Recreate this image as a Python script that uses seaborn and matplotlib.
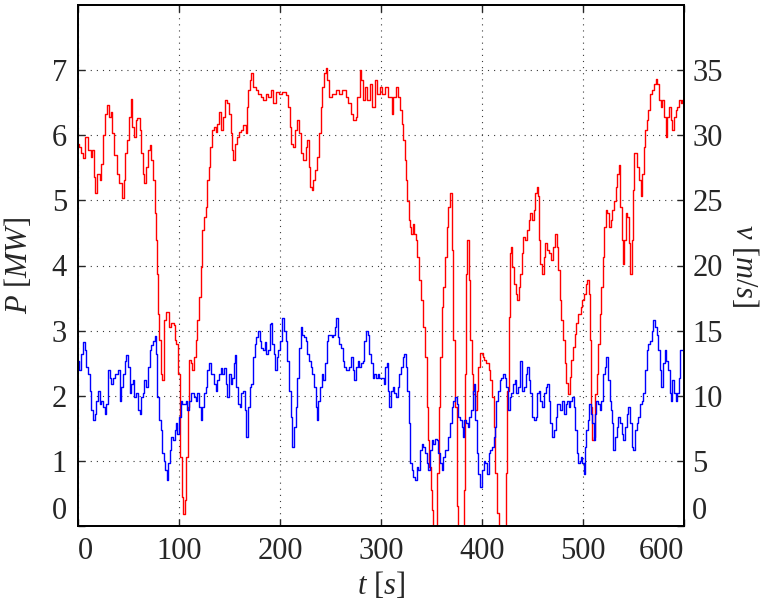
import numpy as np
import pandas as pd
import seaborn as sns
import matplotlib
matplotlib.use('Agg')
import matplotlib.pyplot as plt

# Power P [MW] (red, left axis)
p_time = [0, 0.8, 2.5, 4.8, 7.4, 10, 12.4, 14, 15.6, 17.3, 19, 21.3, 23.2, 24.9, 27.2, 28.9, 30.5, 32.2, 33.8, 36.1,
          38.8, 41, 43.7, 45.4, 47, 48.7, 50.3, 52, 53.6, 55.3, 57, 58.6, 60.9, 62.5, 64.2, 65.8, 67.5, 69.1, 70.8, 72.7,
          74.4, 76, 77, 78, 79, 80, 81.7, 83.3, 85, 87.3, 89.9, 92.5, 94.9, 96.5, 97.5, 99.2, 100.6, 102.5, 103.9, 105.8,
          107.2, 108.5, 109.8, 111.5, 113.1, 114.8, 116.4, 118.1, 119.7, 121.4, 122.4, 124.7, 126.3, 128, 129.6, 131, 132.2, 134.6, 136.2, 137.9,
          139.5, 141.2, 143.5, 145.4, 147.1, 149.4, 151, 152.7, 153.7, 155.3, 157, 159.3, 161.3, 163.6, 165.9, 167.2, 168.5, 169.9, 171.2, 173.2,
          175.8, 178.4, 180.7, 183.1, 185.7, 188.3, 190.7, 193, 195.6, 199, 202.3, 205.6, 208.2, 209.6, 211.2, 212.9, 214.8, 217.2, 218.8, 220.8,
          222.8, 225.4, 227, 228.7, 230, 231.3, 233, 234.6, 236.6, 238.6, 240.3, 241.9, 243.6, 245.2, 246.9, 248.5, 251.8, 255.1, 258.4, 261.7,
          265, 267.6, 270, 272.3, 274.9, 276.6, 278.9, 280.2, 282.2, 284.1, 286.5, 288.8, 291.4, 294.1, 296.4, 298.7, 300.8, 304, 307.4, 310.7,
          312.3, 315, 317.3, 318.9, 320.6, 322.2, 323.9, 324.8, 326.2, 327.8, 328.8, 330.1, 331.4, 332.8, 334.7, 336, 337.7, 339.7, 342, 343.6,
          345.3, 346.6, 347.9, 349.3, 350.3, 351.9, 354.5, 355.9, 357.5, 358.5, 360.2, 361.8, 363.5, 365.1, 366.8, 368.4, 370.1, 371.7, 373.4, 375,
          376.7, 381, 382.3, 383.3, 384.2, 385.6, 386.9, 388.2, 389.9, 391.5, 393.2, 394.8, 396.5, 398.1, 400.7, 401.8, 404.2, 406.5, 408.4, 409.8,
          411.4, 413.1, 414.7, 416.4, 422.3, 424, 424.9, 426.3, 427.6, 428.9, 429.9, 431.5, 433.2, 434.8, 436.5, 438.1, 439.5, 440.8, 442.8, 444.7,
          446.4, 448, 449.7, 451.3, 452.7, 454, 455.3, 456.6, 457.9, 459.3, 460.9, 462.6, 464.5, 466.5, 468.5, 470.2, 472.5, 473.8, 475.1, 476.8,
          478.4, 480.1, 481.7, 483.4, 485, 486.7, 488.3, 490, 491.6, 493.3, 494.9, 497.7, 499.3, 501, 502.6, 504.3, 505.9, 507.2, 508.2, 509.2,
          510.5, 511.8, 513.5, 514.8, 516.5, 518.1, 519.4, 521.1, 522.4, 524.1, 525.7, 527.4, 529, 530.7, 532.3, 534, 535.6, 536.9, 538.2, 539.2,
          540.6, 542.2, 543.9, 545.5, 546.8, 548.1, 549.5, 550.8, 552.1, 553.8, 555.4, 557.1, 558.7, 560, 561.3, 563, 564.6, 566.3, 567.9, 569.9,
          571.9, 573.6, 575.2, 576.9, 578.5, 580.2, 581.8, 583.5, 585.1, 586.8, 588.4, 590.1, 591.7, 593.4, 595, 596.7, 598.3, 600]
p_mw = [5.87, 5.82, 5.72, 5.65, 5.98, 5.77, 5.67, 5.77, 5.36, 5.12, 5.41, 5.31, 5.56, 6.0, 6.33, 6.46, 6.28, 6.36, 6.03, 5.69,
        5.41, 5.26, 5.03, 5.31, 5.72, 5.93, 6.28, 6.56, 6.13, 5.98, 6.23, 6.26, 6.08, 5.72, 5.41, 5.26, 5.52, 5.77, 5.85, 5.62,
        5.31, 4.80, 4.39, 3.87, 3.26, 2.85, 2.34, 2.24, 3.16, 3.29, 3.06, 3.11, 3.08, 2.85, 2.80, 2.34, 1.06, 0.45, 0.19, 0.40,
        1.06, 1.83, 2.55, 2.50, 2.39, 2.60, 2.85, 3.16, 3.52, 3.98, 4.54, 4.75, 4.90, 5.31, 5.52, 5.82, 6.08, 6.13, 6.05, 6.18,
        6.36, 6.08, 6.28, 6.54, 6.49, 6.33, 6.03, 5.77, 5.62, 5.87, 5.98, 6.05, 6.08, 6.16, 6.03, 6.44, 6.69, 6.85, 6.95, 6.74,
        6.69, 6.64, 6.59, 6.54, 6.64, 6.59, 6.69, 6.49, 6.67, 6.64, 6.67, 6.62, 6.44, 6.13, 5.87, 5.82, 6.08, 6.23, 6.03, 5.72,
        5.62, 5.82, 5.93, 5.52, 5.21, 5.16, 5.31, 5.46, 5.67, 6.03, 6.44, 6.74, 6.95, 7.03, 6.85, 6.59, 6.64, 6.69, 6.64, 6.69,
        6.59, 6.49, 6.33, 6.23, 6.28, 6.59, 7.00, 6.85, 6.54, 6.74, 6.54, 6.79, 6.44, 6.85, 6.64, 6.74, 6.64, 6.74, 6.59, 6.33,
        6.59, 6.74, 6.59, 6.39, 6.18, 5.93, 5.62, 5.31, 4.99, 4.70, 4.59, 4.49, 4.64, 4.49, 4.39, 4.13, 3.77, 3.47, 3.06, 2.60,
        1.83, 1.32, 0.90, 0.55, 0.25, 0.0, 0.0, 0.81, 1.83, 2.60, 3.37, 3.67, 4.13, 4.59, 4.90, 5.11, 4.24, 2.85, 1.83, 0.30,
        0.0, 0.0, 0.55, 2.34, 3.87, 4.39, 3.77, 2.85, 2.34, 2.03, 1.78, 2.08, 2.44, 2.65, 2.60, 2.55, 2.50, 2.39, 2.24, 1.98,
        1.52, 0.81, 0.20, 0.0, 0.0, 0.81, 2.08, 3.21, 4.19, 4.29, 3.98, 3.72, 3.57, 3.47, 3.67, 3.87, 4.19, 4.44, 4.39, 4.54,
        4.70, 4.80, 4.70, 4.85, 5.11, 5.21, 5.06, 4.39, 4.03, 3.87, 4.13, 4.34, 4.24, 4.19, 4.08, 4.29, 4.49, 4.29, 3.93, 3.47,
        3.16, 2.85, 2.50, 2.19, 2.03, 2.29, 2.55, 2.75, 2.95, 3.11, 3.26, 3.37, 3.47, 3.57, 3.72, 3.77, 3.57, 2.85, 1.83, 1.32,
        1.37, 2.03, 2.34, 2.80, 3.26, 3.67, 4.13, 4.59, 4.85, 4.80, 4.59, 4.70, 4.85, 4.99, 5.21, 5.41, 5.54, 4.90, 4.39, 4.03,
        4.39, 4.80, 4.75, 4.34, 3.87, 4.39, 5.16, 5.72, 5.72, 5.52, 5.31, 5.06, 5.41, 5.82, 6.08, 6.23, 6.39, 6.64, 6.69, 6.79,
        6.87, 6.79, 6.54, 6.44, 6.54, 6.28, 5.98, 6.28, 6.44, 6.23, 6.08, 6.28, 6.39, 6.44, 6.54, 6.49, 6.54, 6.44]

# Wind speed v [m/s] (blue, right axis)
v_time = [0, 0.8, 2.5, 4.8, 6.7, 8.4, 10, 11.4, 13.3, 15, 16.6, 18.3, 19.9, 21.6, 23.2, 24.9, 26.5, 28.2, 29.8, 31.5,
          33.1, 34.8, 36.4, 38.1, 39.7, 41.4, 43, 44.7, 46.3, 47.7, 49.3, 51, 52.6, 54.3, 55.9, 57.6, 59.2, 60.9, 62.5, 64.2,
          65.8, 67.5, 69.1, 70.8, 72.7, 74.4, 76, 77.4, 78.7, 80, 81.7, 83.3, 85, 86.6, 87.9, 89.2, 90.9, 92.5, 94.2, 95.8,
          96.6, 98.2, 99.9, 101.6, 103.2, 104.9, 106.5, 108.2, 109.8, 111.5, 113.1, 114.8, 116.4, 118.1, 119.7, 121.4, 123, 124.7, 126.3, 128,
          129.6, 131.3, 132.9, 134.6, 136.2, 137.9, 139.5, 141.2, 142.8, 144.5, 146.1, 147.8, 149.4, 151.1, 152.7, 154.4, 155.3, 156.7, 158.3, 160,
          161.6, 163.3, 164.9, 166.6, 168.2, 169.9, 171.5, 173.2, 174.8, 176.5, 178.1, 179.8, 181.4, 183.1, 184.7, 186.4, 188, 189.7, 190.7, 192.3,
          194, 195, 196.6, 198.2, 199.9, 201.5, 202.3, 204, 205.6, 207.3, 208.9, 210.6, 212.2, 213.9, 215.5, 217.2, 218.8, 220.5, 222.1, 223.8,
          225.4, 227.1, 228.7, 230.4, 232, 233.7, 235.3, 236.3, 238, 239.6, 241.2, 242.9, 244.5, 246.2, 247.8, 249.5, 251.1, 252.8, 254.4, 255.4,
          257.1, 258.7, 260.4, 262, 263.7, 265.3, 267, 268.6, 270.3, 271.9, 273.6, 275.2, 276.9, 278.5, 280.2, 281.8, 283.5, 285.1, 286.8, 288.4,
          290.1, 291.7, 293.4, 295, 296.7, 298.3, 300.6, 302.5, 304.1, 305.8, 307.4, 308.4, 310, 311.7, 313.3, 315, 316.6, 318.3, 319.9, 321.6,
          323.2, 324.9, 326.2, 327.5, 328.8, 330.5, 332.1, 333.8, 335.4, 337.1, 338.7, 340.4, 342, 343.7, 345.3, 347, 348.6, 350.3, 351.9, 353.6,
          355.2, 356.9, 358.5, 360.2, 361.8, 363.5, 365.1, 366.8, 368.4, 370.1, 371.7, 373.4, 375, 376.7, 378.3, 380, 381, 382.6, 384.3, 385.9,
          387.5, 389.2, 390.8, 392.2, 393.5, 394.8, 396.5, 397.6, 398.5, 399.9, 401.5, 403.2, 404.8, 406.5, 408.1, 409.8, 411.4, 412.4, 414.1, 415.7,
          417.4, 419, 420.7, 422.3, 424, 425.6, 427.3, 428.9, 430.6, 432.2, 433.9, 435.5, 437.2, 438.1, 439.8, 441.4, 443.1, 444.7, 446.4, 448,
          449.7, 451.3, 453, 454.6, 456.3, 457.9, 459.6, 461.2, 462.9, 464.5, 466.2, 467.8, 469.5, 471.1, 472.8, 474.4, 476.1, 477.7, 479.4, 481,
          482.7, 484.3, 486, 487.6, 489.3, 490.9, 492.3, 493.6, 494.9, 496.6, 498.2, 499.3, 500.6, 501.9, 503.3, 504.6, 505.9, 507.6, 509.2, 510.5,
          511.8, 513.2, 514.8, 516.5, 518.1, 519.8, 521.4, 523.1, 524.7, 526.4, 528, 529, 530, 531.6, 533.3, 535, 536.6, 538.2, 539.9, 541.5,
          543.2, 544.8, 546.5, 548.1, 549.8, 551.4, 553.1, 554.7, 556.4, 558, 559.7, 561.3, 563, 564.6, 566.3, 567.9, 569.6, 571.2, 572.9, 574.5,
          576.2, 577.5, 579.2, 580.8, 582.5, 584.1, 585.8, 587.1, 588.4, 590.1, 591.7, 593.4, 595, 596.4, 598.3, 600]
v_ms = [12.7, 12.0, 13.2, 14.1, 13.5, 12.2, 11.7, 10.4, 8.9, 8.1, 8.6, 9.6, 10.4, 9.4, 9.6, 9.1, 8.6, 9.4, 12.0, 11.4,
        10.9, 11.4, 11.7, 11.7, 12.0, 9.6, 10.7, 11.7, 12.7, 13.1, 12.2, 10.2, 10.9, 11.2, 9.9, 10.2, 8.9, 8.6, 9.9, 10.2,
        11.2, 10.7, 12.2, 13.5, 13.9, 14.2, 14.6, 13.2, 9.9, 8.1, 7.4, 5.6, 5.0, 4.3, 3.5, 4.8, 5.8, 6.8, 6.6, 7.4,
        7.9, 7.1, 8.4, 9.6, 9.4, 9.4, 9.6, 8.9, 9.6, 10.2, 10.2, 9.9, 9.6, 10.2, 9.1, 8.1, 9.1, 10.2, 10.7, 12.0,
        12.5, 11.7, 11.7, 10.9, 10.4, 11.2, 11.7, 12.1, 11.7, 12.1, 10.9, 9.9, 11.7, 10.9, 11.4, 12.5, 13.1, 10.7, 9.4, 9.1,
        10.2, 10.4, 8.9, 6.8, 9.1, 10.7, 10.9, 13.0, 14.0, 14.5, 15.0, 14.2, 13.7, 13.5, 14.1, 13.2, 13.5, 15.5, 15.6, 14.0,
        13.2, 12.0, 13.0, 13.5, 14.2, 14.7, 16.0, 15.0, 14.2, 12.7, 10.4, 8.4, 6.1, 7.6, 9.1, 11.4, 13.7, 15.3, 14.7, 14.5,
        14.2, 13.2, 12.7, 12.2, 11.7, 10.7, 9.1, 8.1, 9.6, 10.7, 11.7, 11.2, 12.5, 14.2, 14.7, 14.7, 14.5, 14.7, 15.3, 16.0,
        14.5, 14.0, 13.7, 12.7, 12.2, 12.0, 12.0, 12.2, 13.0, 12.0, 11.2, 12.2, 12.7, 12.2, 12.5, 12.7, 14.2, 15.0, 14.7, 13.2,
        12.5, 11.4, 11.7, 11.4, 11.7, 11.4, 11.4, 10.9, 12.2, 12.5, 10.4, 9.1, 10.4, 10.7, 10.2, 9.9, 10.7, 11.7, 12.2, 13.0,
        13.2, 12.2, 10.4, 7.9, 4.8, 4.3, 3.8, 3.5, 4.5, 4.3, 5.8, 6.3, 6.1, 5.6, 4.8, 4.3, 5.8, 6.6, 6.3, 6.7,
        6.6, 5.6, 4.8, 4.3, 5.3, 5.8, 5.8, 6.8, 7.9, 9.1, 9.6, 9.9, 9.4, 8.4, 8.1, 7.6, 6.8, 8.1, 7.9, 7.6,
        8.4, 8.9, 10.4, 10.9, 8.1, 5.6, 4.0, 3.8, 3.0, 4.3, 5.0, 4.8, 4.0, 5.6, 5.8, 6.1, 6.8, 7.6, 9.6, 10.4,
        11.2, 11.4, 11.7, 11.4, 10.7, 8.9, 9.9, 10.2, 10.9, 11.2, 10.2, 10.7, 12.5, 12.7, 10.4, 10.7, 11.7, 12.2, 11.2, 10.2,
        8.4, 8.1, 8.4, 10.2, 10.4, 9.6, 9.1, 10.2, 10.7, 10.9, 9.6, 7.9, 6.8, 7.4, 8.4, 9.4, 9.4, 8.9, 9.6, 8.6,
        9.4, 9.6, 9.1, 9.6, 9.9, 9.1, 7.4, 5.6, 4.8, 5.0, 5.3, 4.8, 4.0, 6.1, 7.4, 8.1, 9.4, 8.6, 7.9, 6.6,
        8.6, 9.6, 9.4, 8.9, 9.6, 11.7, 12.2, 13.0, 11.2, 9.6, 8.9, 7.9, 5.8, 6.8, 7.6, 8.4, 7.9, 7.1, 6.6, 7.6,
        8.6, 9.1, 7.9, 6.1, 5.8, 7.4, 7.9, 8.4, 9.4, 9.6, 10.2, 12.0, 13.5, 14.0, 14.2, 15.0, 15.8, 15.3, 14.7, 13.5,
        12.0, 10.7, 12.5, 13.5, 12.7, 12.0, 10.2, 9.6, 11.2, 10.2, 9.6, 10.2, 11.4, 13.5, 13.5, 13.2]

df_p = pd.DataFrame({'t': p_time, 'P': p_mw})
df_v = pd.DataFrame({'t': v_time, 'v': v_ms})

sns.set_style('ticks')
plt.rcParams['font.family'] = ['Liberation Serif', 'DejaVu Serif']
plt.rcParams['mathtext.fontset'] = 'custom'
plt.rcParams['mathtext.rm'] = 'Liberation Serif'
plt.rcParams['mathtext.it'] = 'Liberation Serif:italic'

fig = plt.figure(figsize=(7.68, 6.07), dpi=100)
ax = fig.add_axes([78 / 768, 1 - 526 / 607, 606 / 768, 521 / 607])
ax2 = ax.twinx()

sns.lineplot(data=df_p, x='t', y='P', ax=ax, color='#ff0000', lw=1.0, estimator=None,
             drawstyle='steps-post')
sns.lineplot(data=df_v, x='t', y='v', ax=ax2, color='#0000ff', lw=1.0, estimator=None,
             drawstyle='steps-post')

ax.set_xlim(0, 600)
ax.set_ylim(0, 8)
ax2.set_ylim(0, 40)
ax.set_xticks(range(0, 601, 100))
ax.set_yticks(range(0, 8))
ax2.set_yticks(range(0, 36, 5))

ax.grid(True, color='#3a3a3a', linestyle=(0, (1, 4.5)), linewidth=0.8)
ax.set_axisbelow(True)

fs = 22
ax.tick_params(axis='both', direction='in', length=5, width=1, labelsize=fs, top=True, pad=8)
ax.tick_params(axis='y', right=False)
ax2.tick_params(axis='y', direction='in', length=5, width=1, labelsize=fs, pad=6)

for a in (ax, ax2):
    for s in a.spines.values():
        s.set_linewidth(1.3)
        s.set_color('black')

# MATLAB-style edge label placement
xl = ax.get_xticklabels()
xl[0].set_ha('left')
xl[-1].set_ha('right')
ax.get_yticklabels()[0].set_va('bottom')
ax2.get_yticklabels()[0].set_va('bottom')

ax.set_xlabel('$t$ [$s$]', fontsize=fs, labelpad=3)
ax.set_ylabel('$P$ [$MW$]', fontsize=fs, labelpad=13)
ax2.set_ylabel('$v$ [$m/s$]', fontsize=fs, rotation=270, labelpad=27)

fig.savefig('out.png', dpi=100)
